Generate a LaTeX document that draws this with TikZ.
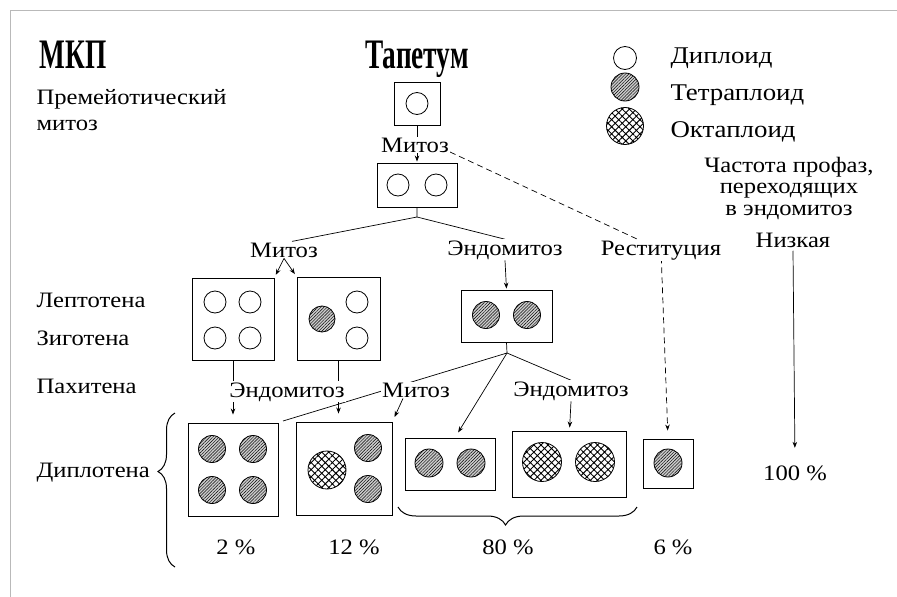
\documentclass[tikz,border=0pt]{standalone}
\usepackage{fontspec}
\setmainfont{Liberation Serif}[FakeStretch=1.12]
\newfontface\headfont[FakeStretch=0.65]{Liberation Serif Bold}
\usetikzlibrary{arrows.meta,patterns.meta,decorations.pathreplacing,backgrounds}
\newcommand{\Mit}      {Митоз}
\newcommand{\Endo}     {Эндомитоз}
\newcommand{\hd}       {\headfont\fontsize{42}{42}\selectfont}
\newcommand{\lgd}      {\fontsize{24}{24}\selectfont}

\begin{document}
\begin{tikzpicture}[x=1pt,y=-1pt,
   font=\fontsize{22}{21.5}\selectfont,
   >={Stealth[length=6pt,width=4.5pt]},
   cell/.style={draw,line width=0.9pt,inner sep=0pt},
   dipl/.style={circle,draw,line width=0.8pt,inner sep=0pt,minimum size=22pt},
   tetra/.style={circle,draw,line width=0.8pt,inner sep=0pt,minimum size=27pt,fill=gray!40,
      postaction={pattern={Lines[angle=45,distance=2.2pt,line width=0.45pt]}}},
   octa/.style={circle,draw,line width=0.8pt,inner sep=0pt,minimum size=38pt,
      postaction={pattern={Hatch[angle=45,distance=5pt,line width=0.9pt]}}},
   lbl/.style={fill=white,inner sep=1pt,anchor=base},
   conn/.style={line width=0.7pt}]
   \useasboundingbox (0,0) rectangle (897,597);
   \draw[gray!55,line width=1pt] (897,10) -- (10,10) -- (10,597);
   % titles and stages
   \node[anchor=base west,font=\hd] (mkp) at (36,68) {МКП};
   \node[anchor=base,font=\hd] (tap) at (417,68) {Тапетум};
   \node[anchor=base west] (pm1) at (33,104) {Премейотический};
   \node[anchor=base west] (pm2) at (33,130) {митоз};
   \node[anchor=base west] (lep) at (33,307) {Лептотена};
   \node[anchor=base west] (zyg) at (33,345) {Зиготена};
   \node[anchor=base west] (pach) at (33,393) {Пахитена};
   \node[anchor=base west] (dipt) at (33,477) {Диплотена};
   % legend
   \node[dipl,minimum size=23pt] (lg1) at (625,58) {};
   \node[tetra,minimum size=28pt] (lg2) at (625,87) {};
   \node[octa,minimum size=37pt] (lg3) at (625,126) {};
   \node[anchor=base west,font=\lgd] (lt1) at (667,63) {Диплоид};
   \node[anchor=base west,font=\lgd] (lt2) at (667,100) {Тетраплоид};
   \node[anchor=base west,font=\lgd] (lt3) at (667,137) {Октаплоид};
   \node[align=center] (freq) at (789,188) {Частота профаз,\\переходящих\\в эндомитоз};
   \node[anchor=base] (low) at (793,247) {Низкая};
   \node[anchor=base] (hi) at (795,480) {100 \%};
   % tapetum cells
   \node[cell,minimum width=46pt,minimum height=43pt] (t1) at (417,103.5) {};
   \node[dipl] at (417,103.5) {};
   \node[cell,minimum width=80pt,minimum height=44pt] (t2) at (417,185) {};
   \node[dipl] at (398,185) {};
   \node[dipl] at (436,185) {};
   \node[cell,minimum width=82pt,minimum height=82pt] (bA) at (233,319) {};
   \node[dipl] at (215,302) {};
   \node[dipl] at (250,302) {};
   \node[dipl] at (215,338) {};
   \node[dipl] at (250,338) {};
   \node[cell,minimum width=83pt,minimum height=83pt] (bB) at (338.5,318.5) {};
   \node[tetra,minimum size=26pt] at (322,319) {};
   \node[dipl] at (357,302) {};
   \node[dipl] at (357,338) {};
   \node[cell,minimum width=91pt,minimum height=52pt] (bC) at (506.5,316) {};
   \node[tetra] at (486,315) {};
   \node[tetra] at (527,315) {};
   % diplotene cells
   \node[cell,minimum width=90pt,minimum height=93pt] (bD) at (233,469.5) {};
   \node[tetra] at (212,449) {};
   \node[tetra] at (253,449) {};
   \node[tetra] at (212,490) {};
   \node[tetra] at (253,490) {};
   \node[cell,minimum width=96pt,minimum height=93pt] (bE) at (344,468.5) {};
   \node[octa] at (327,470) {};
   \node[tetra] at (368,448) {};
   \node[tetra] at (368,489) {};
   \node[cell,minimum width=90pt,minimum height=52pt] (bF) at (450,464) {};
   \node[tetra,minimum size=28pt] at (429,463) {};
   \node[tetra,minimum size=28pt] at (471,463) {};
   \node[cell,minimum width=114pt,minimum height=66pt] (bG) at (569.5,464) {};
   \node[octa,minimum size=39pt] at (542,462) {};
   \node[octa,minimum size=39pt] at (595,462) {};
   \node[cell,minimum width=50pt,minimum height=49pt] (bH) at (668,463.5) {};
   \node[tetra,minimum size=28pt] at (668,463) {};
   % process labels
   \node[lbl] (mA) at (415,152) {\Mit};
   \node[lbl] (mB) at (284,257) {\Mit};
   \node[lbl] (eA) at (505,255) {\Endo};
   \node[lbl] (rest) at (661,255) {Реституция};
   \node[lbl] (eB) at (287,397) {\Endo};
   \node[lbl] (mC) at (416,397) {\Mit};
   \node[lbl] (eC) at (571,396) {\Endo};
   \coordinate (j1) at (417,217);
   \coordinate (j2) at (507,353);
   \coordinate (lnend) at (283,421);
   % percentages
   \node[anchor=base] (p2) at (236,554) {2 \%};
   \node[anchor=base] (p12) at (354,554) {12 \%};
   \node[anchor=base] (p80) at (508,554) {80 \%};
   \node[anchor=base] (p6) at (673,554) {6 \%};
   \draw[line width=1pt,decorate,decoration={brace,amplitude=17pt,aspect=0.62}] (175,567) -- (175,413);
   \draw[line width=1pt,decorate,decoration={brace,amplitude=18pt,aspect=0.55}] (637,507) -- (398,507);
   \begin{pgfonlayer}{background}
   \draw[conn,->,shorten >=1pt] (t1.south) -- (t2.north);
   \draw[conn] (t2.south) -- (j1) -- ([xshift=8pt]mB.north);
   \draw[conn] (j1) -- (eA.north);
   \draw[conn,->,shorten >=3pt] (mB.south) -- (bA.north east);
   \draw[conn,->,shorten >=3pt] (mB.south) -- (bB.north west);
   \draw[conn,->,shorten >=1pt] (eA.south) -- (bC.north);
   \draw[conn,dashed,dash pattern=on 6pt off 4pt,->,shorten >=8pt] (mA.base east) -- (rest.center) -- (bH.north);
   \draw[conn,->,shorten >=8pt] (bA.south) -- (bD.north);
   \draw[conn,->,shorten >=8pt] (bB.south) -- (bB.south |- bE.north);
   \draw[conn] (bC.south) -- (j2) -- (lnend);
   \draw[conn,->,shorten >=5pt] ([xshift=-13pt]mC.south) -- (bE.north east);
   \draw[conn,->,shorten >=6pt] (j2) -- ([xshift=5pt]bF.north);
   \draw[conn] (j2) -- (eC.north);
   \draw[conn,->,shorten >=3pt] (eC.south) -- (bG.north);
   \draw[conn,->,shorten >=14pt] (low.south) -- (hi.north);
   \end{pgfonlayer}
\end{tikzpicture}
\end{document}
